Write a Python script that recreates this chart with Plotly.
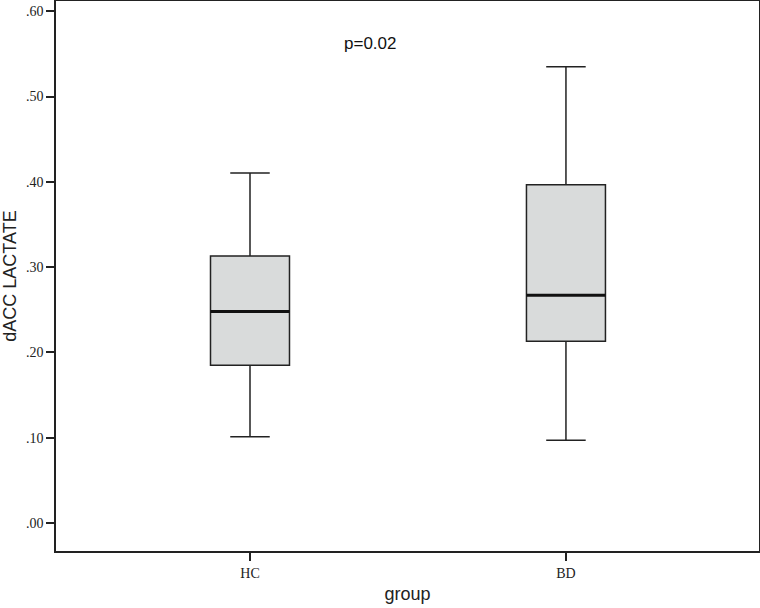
import plotly.graph_objs as go

# Box summary values
groups = ['HC', 'BD']
x_pos = [0, 1]
lower_whisker = [0.101, 0.097]
q1_vals = [0.185, 0.213]
median_vals = [0.248, 0.267]
q3_vals = [0.313, 0.3965]
upper_whisker = [0.4105, 0.535]
y_ticks = [0.0, 0.1, 0.2, 0.3, 0.4, 0.5, 0.6]
y_tick_labels = ['.00', '.10', '.20', '.30', '.40', '.50', '.60']
p_text = 'p=0.02'

box_w = 0.25

box = go.Box(
    x=x_pos,
    q1=q1_vals,
    median=median_vals,
    q3=q3_vals,
    lowerfence=lower_whisker,
    upperfence=upper_whisker,
    width=box_w,
    whiskerwidth=0.5,
    fillcolor='#d9dbdb',
    line=dict(color='#222222', width=1.5),
    hoverinfo='skip',
    showlegend=False,
)

# thicker median line on top of each box
med_traces = []
for xp, med in zip(x_pos, median_vals):
    med_traces.append(go.Scatter(
        x=[xp - box_w / 2, xp + box_w / 2],
        y=[med, med],
        mode='lines',
        line=dict(color='#111111', width=3),
        hoverinfo='skip',
        showlegend=False,
    ))

fig = go.Figure(data=[box] + med_traces)

fig.add_annotation(
    x=0.38, y=0.5625, xref='x', yref='y',
    text=p_text, showarrow=False,
    font=dict(family='Liberation Sans', size=17, color='#111111'),
)

fig.update_layout(
    width=760, height=608,
    margin=dict(l=56, r=1, t=1, b=57),
    plot_bgcolor='white',
    paper_bgcolor='white',
    xaxis=dict(
        range=[-0.614, 1.611],
        tickvals=x_pos,
        ticktext=groups,
        automargin=False,
        ticks='outside', ticklen=8, tickcolor='#222222', tickwidth=1.5,
        showline=True, linecolor='#222222', linewidth=1.5, mirror=True,
        showgrid=False, zeroline=False,
        tickfont=dict(family='Liberation Serif', size=14, color='#222222'),
        title=dict(text='group', standoff=8,
                   font=dict(family='Liberation Sans', size=18, color='#222222')),
    ),
    yaxis=dict(
        range=[-0.0328, 0.612],
        tickvals=y_ticks,
        ticktext=y_tick_labels,
        automargin=False,
        ticks='outside', ticklen=8, tickcolor='#222222', tickwidth=1.5,
        showline=True, linecolor='#222222', linewidth=1.5, mirror=True,
        showgrid=False, zeroline=False,
        tickfont=dict(family='Liberation Serif', size=14, color='#222222'),
        title=dict(text='dACC LACTATE', standoff=5,
                   font=dict(family='Liberation Sans', size=18, color='#222222')),
    ),
)

# drop the page's default body margin so the figure sits at the corner
fig.write_html('out.html', config={'displayModeBar': False},
               post_script="document.body.style.margin='0';")
